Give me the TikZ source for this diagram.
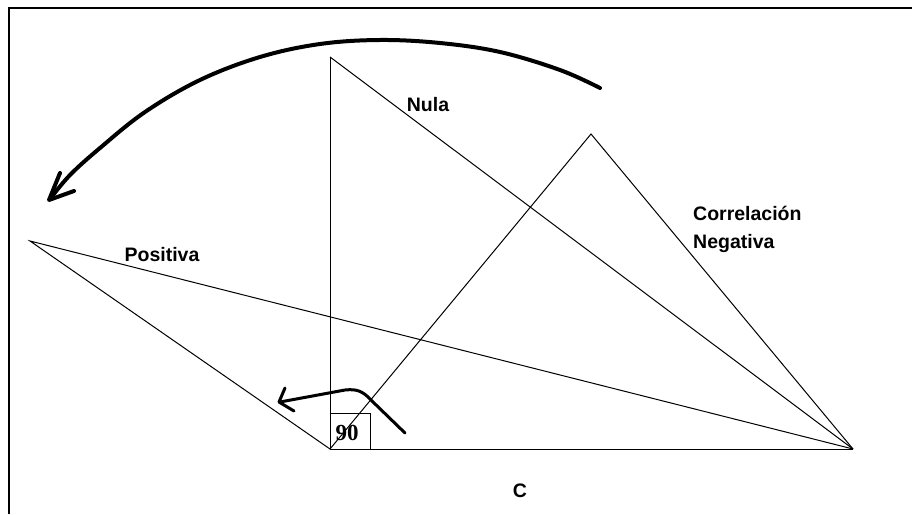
\documentclass[tikz,border=0pt]{standalone}
\usepackage{fontspec}
\setmainfont{Liberation Sans}
\newfontfamily\serifnum{Liberation Serif}
\begin{document}
\begin{tikzpicture}[x=1pt,y=-1pt,
  thinline/.style={line width=1pt},
  thickarrow/.style={line width=4pt,line cap=round,line join=round},
  medarrow/.style={line width=3pt,line cap=round,line join=round},
  lbl/.style={font=\bfseries\fontsize{19.5}{21}\selectfont,inner sep=0pt}]
\useasboundingbox (0,0) rectangle (912,514);
\fill[white] (0,0) rectangle (912,514);
% frame
\draw[line width=1.5pt] (9,514) -- (9,8) -- (912,8);
% vertices
\coordinate (O) at (330,449);
\coordinate (R) at (853,449);
\coordinate (T) at (330,57);
\coordinate (P) at (30,241);
\coordinate (N) at (591,134);
% lines
\draw[thinline] (T) -- (O) -- (R);
\draw[thinline] (T) -- (R);
\draw[thinline] (O) -- (P) -- (R);
\draw[thinline] (O) -- (N) -- (R);
% right angle box
\draw[thinline] (330,413) rectangle (370,449);
\node[inner sep=0pt,font=\serifnum\bfseries\fontsize{23}{24}\selectfont] (ninety) at (347,433) {90};
% big arc arrow
\draw[thickarrow] plot[smooth,tension=0.6] coordinates {(600,88) (560,70) (500,52) (440,43) (380,40) (320,44) (260,57) (200,80) (145,112) (100,148) (70,175) (50,199)};
\coordinate (bt) at (49,200);
\coordinate (bb1) at (60,173);
\coordinate (bb2) at (74,191);
\draw[thickarrow] (bb1) -- (bt) -- (bb2);
% small arrow
\draw[medarrow] (405,433) -- (372,401);
\draw[medarrow] (372,401) .. controls (362,390) and (356,389) .. (345,390) -- (280,402);
\coordinate (st) at (279,402);
\coordinate (sb1) at (285,388);
\coordinate (sb2) at (294,411);
\draw[medarrow] (sb1) -- (st) -- (sb2);
% labels
\node[lbl] (nula) at (428,105) {Nula};
\node[lbl] (pos) at (162,255) {Positiva};
\node[lbl,anchor=west] (corr) at (693,213) {Correlación};
\node[lbl,anchor=west] (neg) at (693,243) {Negativa};
\node[lbl] (c) at (520,491) {C};
\end{tikzpicture}
\end{document}
